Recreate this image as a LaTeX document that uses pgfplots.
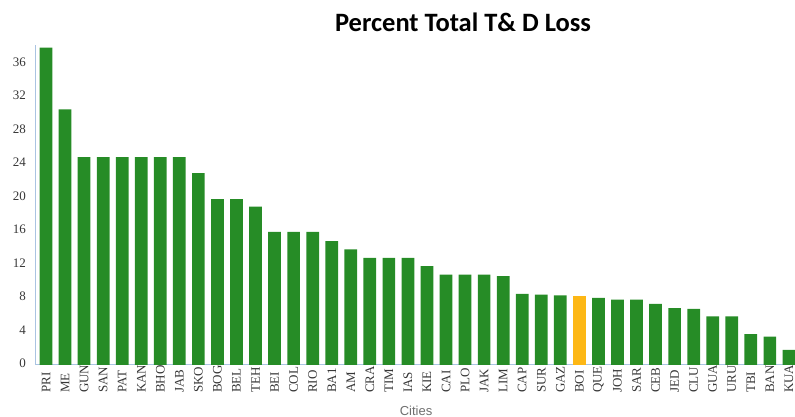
\documentclass[border=0pt]{standalone}
\usepackage{fontspec}
\setmainfont{Liberation Serif}
\newfontfamily\carlito{Carlito}
\newfontfamily\arial{Liberation Sans}
\usepackage{pgfplots}
\pgfplotsset{compat=1.18}
\definecolor{bargreen}{RGB}{38,140,38}
\definecolor{barorange}{RGB}{253,183,21}
\definecolor{axisblue}{RGB}{170,196,226}
\definecolor{ticklab}{RGB}{55,55,55}
\definecolor{labgray}{RGB}{110,110,110}
\begin{document}
\begin{tikzpicture}
\useasboundingbox (0,0) rectangle (795pt,417pt);
\begin{axis}[
  at={(36pt,52pt)}, anchor=south west,
  scale only axis, width=759pt, height=320pt,
  xmin=-0.525, xmax=39.32, ymin=0, ymax=38.2,
  axis x line*=bottom, axis y line*=left,
  axis line style={axisblue, line width=1pt},
  major tick length=0pt,
  ytick={0,4,...,36},
  xtick={0,...,39},
  xticklabels={PRI,ME,GUN,SAN,PAT,KAN,BHO,JAB,SKO,BOG,BEL,TEH,BEI,COL,RIO,BA1,AM,CRA,TIM,IAS,KIE,CAI,PLO,JAK,LIM,CAP,SUR,GAZ,BOI,QUE,JOH,SAR,CEB,JED,CLU,GUA,URU,TBI,BAN,KUA},
  /pgf/number format/assume math mode=true,
  yticklabel style={font=\fontsize{13}{13}\selectfont, text=ticklab, anchor=east, inner sep=0pt, xshift=-10pt, yshift=1.5pt},
  xticklabel style={font=\fontsize{13}{13}\selectfont, text=ticklab, rotate=90, anchor=west, inner sep=0pt},
  xticklabel shift=28pt,
  ybar, bar width=0.667,
  clip=false,
]
\addplot[fill=bargreen, draw=none, bar shift=0pt] coordinates {
(0,37.9) (1,30.5) (2,24.8) (3,24.8) (4,24.8) (5,24.8) (6,24.8) (7,24.8)
(8,22.9) (9,19.8) (10,19.8) (11,18.9) (12,15.9) (13,15.9) (14,15.9)
(15,14.8) (16,13.8) (17,12.8) (18,12.8) (19,12.8) (20,11.8) (21,10.8)
(22,10.8) (23,10.8) (24,10.6) (25,8.5) (26,8.4) (27,8.3)
(29,8.0) (30,7.8) (31,7.8) (32,7.3) (33,6.8) (34,6.7) (35,5.8) (36,5.8)
(37,3.7) (38,3.4) (39,1.8)
};
\addplot[fill=barorange, draw=none, bar shift=0pt] coordinates {(28,8.2)};
\end{axis}
\node[anchor=base] at (463pt,385pt) {\carlito\bfseries\fontsize{26.5}{26.5}\selectfont Percent Total T\& D Loss};
\node[anchor=base, text=labgray] at (416pt,1.5pt) {\arial\fontsize{13}{13}\selectfont Cities};
\end{tikzpicture}
\end{document}
